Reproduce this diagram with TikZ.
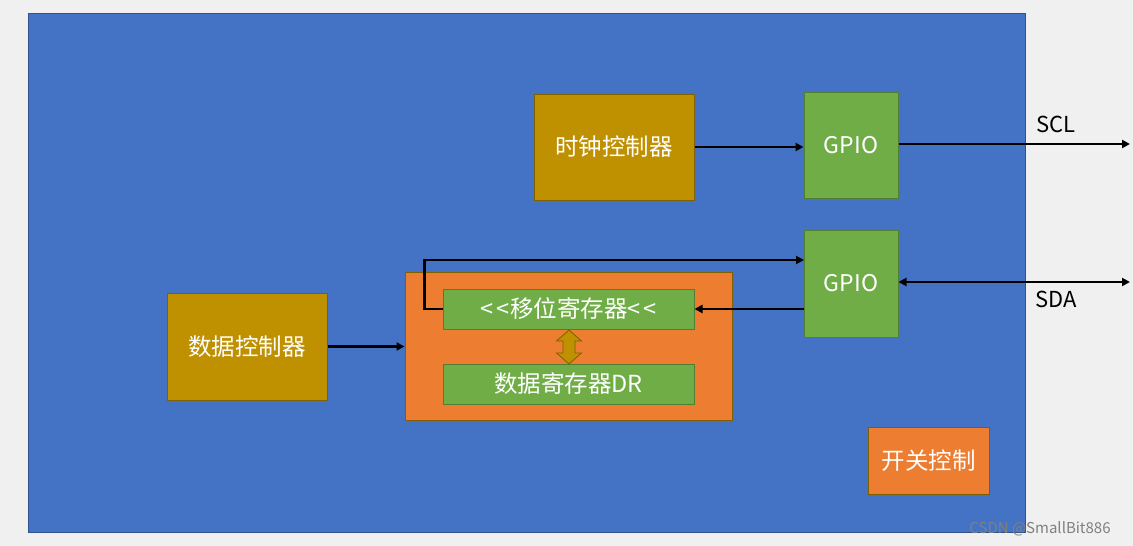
\documentclass[tikz,border=0pt]{standalone}
\usepackage{fontspec}
\setmainfont{Noto Sans CJK SC}
\usetikzlibrary{arrows.meta}
\definecolor{bg}{HTML}{F0F0F0}
\definecolor{blu}{HTML}{4472C4}
\definecolor{bluB}{HTML}{2F528F}
\definecolor{gold}{HTML}{BF9000}
\definecolor{goldB}{HTML}{7F6000}
\definecolor{grn}{HTML}{70AD47}
\definecolor{grnB}{HTML}{507E32}
\definecolor{org}{HTML}{ED7D31}
\tikzset{
  box/.style={draw, line width=1pt, text=white, inner sep=0pt, font=\fontsize{23.5}{26}\selectfont},
  goldbox/.style={box, fill=gold, draw=goldB},
  grnbox/.style={box, fill=grn, draw=grnB},
  orgbox/.style={box, fill=org, draw=goldB},
  arr/.style={line width=2.7pt, -{Triangle[length=8pt,width=8pt]}},
  darr/.style={line width=2.7pt, {Triangle[length=8pt,width=8pt]}-{Triangle[length=8pt,width=8pt]}},
  lbl/.style={font=\fontsize{22}{26}\selectfont, text=black}
}
\newcommand{\ltlt}{{<}\kern3pt{<}}
\begin{document}
\begin{tikzpicture}[x=1pt,y=-1pt]
\fill[bg] (0,0) rectangle (1133,546);
\useasboundingbox (0,0) rectangle (1133,546);
\draw[fill=blu, draw=bluB, line width=1pt] (28,13) rectangle (1025,532);

\node[goldbox, minimum width=160pt, minimum height=106pt] (clock) at (614,147) {时钟控制器};
\node[grnbox, minimum width=94pt, minimum height=106pt, font=\fontsize{23}{26}\selectfont] (gpio1) at (851,145) {GPIO};
\node[grnbox, minimum width=94pt, minimum height=107pt, font=\fontsize{23}{26}\selectfont] (gpio2) at (851,283.5) {GPIO};
\node[goldbox, minimum width=160pt, minimum height=107pt] (data) at (247,346.5) {数据控制器};
\node[orgbox, minimum width=327pt, minimum height=148pt] (orange) at (568.5,346) {};
\node[grnbox, minimum width=251pt, minimum height=40pt] (shift) at (568.5,309) {\ltlt\kern1pt 移位寄存器\ltlt};
\node[grnbox, minimum width=251pt, minimum height=40pt] (dr) at (568.5,384) {数据寄存器DR};
\node[orgbox, minimum width=121pt, minimum height=67pt] (sw) at (928.5,460.5) {开关控制};

% double arrow between registers
\draw[fill=gold, draw=goldB, line width=0.8pt]
  (569,330) -- (581.5,341) -- (575,341) -- (575,353) -- (581.5,353) -- (569,364)
  -- (556.5,353) -- (563,353) -- (563,341) -- (556.5,341) -- cycle;

\coordinate (scl) at (1130,144);
\coordinate (sda) at (1130,282);
\coordinate (loopTop) at (804,260);

\draw[arr] (clock.east) -- (clock.east -| gpio1.west);
\draw[arr] (gpio1.east |- scl) -- (scl);
\draw[darr] (gpio2.east |- sda) -- (sda);
\draw[arr] (data.east) -- (data.east -| orange.west);
\draw[arr] (shift.west) -- ++(-18,0) |- (loopTop);
\draw[arr] (shift.east -| gpio2.west) -- (shift.east);

\node[lbl] (sclL) at (1056,124) {SCL};
\node[lbl] (sdaL) at (1056,299) {SDA};
\node[font=\fontsize{15}{17}\selectfont, text=gray] (wm) at (1040,529) {CSDN @SmallBit886};
\end{tikzpicture}
\end{document}
